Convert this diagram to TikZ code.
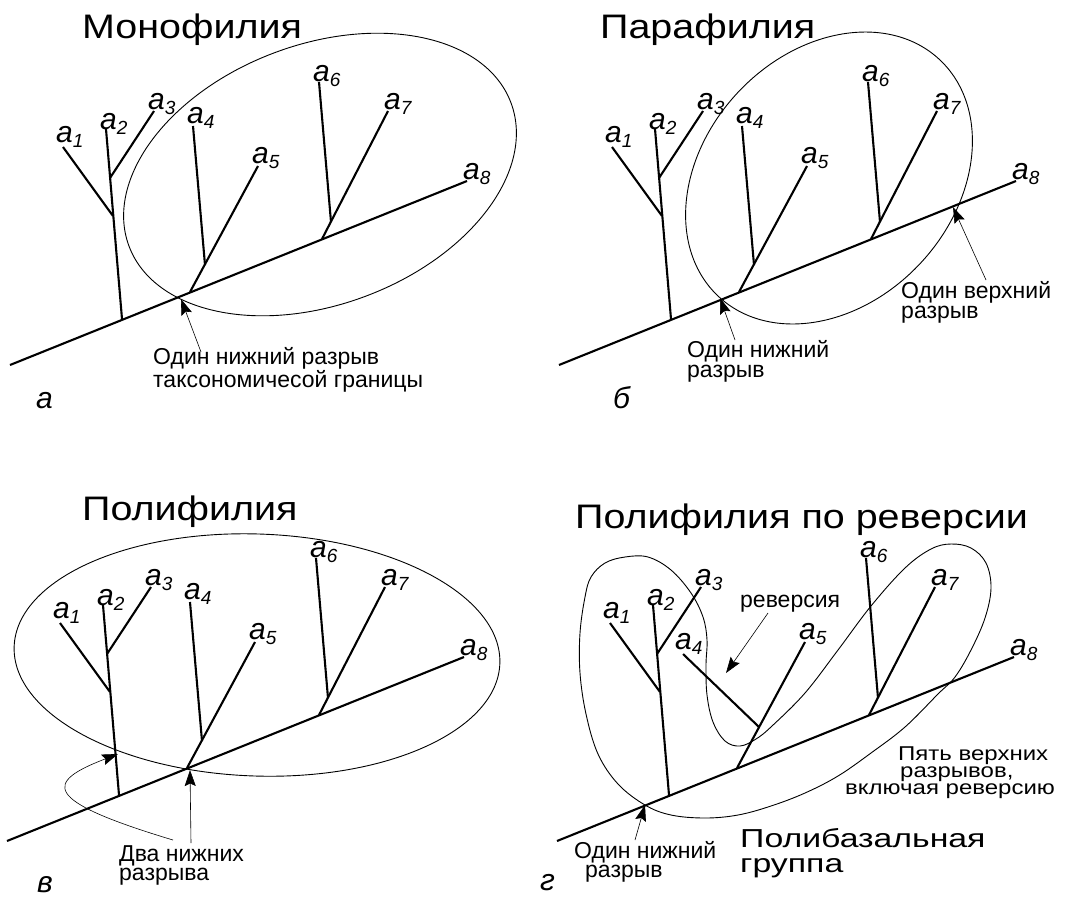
\documentclass[tikz,border=0pt]{standalone}
\usepackage{fontspec}
\setmainfont{Liberation Sans}
\newfontfamily\widefont{Liberation Sans}[FakeStretch=1.16]
\newfontfamily\smallwide{Liberation Sans}[FakeStretch=1.2]
\newfontfamily\widerfont{Liberation Sans}[FakeStretch=1.3]
\usetikzlibrary{arrows.meta,shapes.geometric}
\newcommand\albl[1]{a\raisebox{-5pt}{\fontsize{19}{19}\selectfont #1}}
\newcommand\phylotree[3]{%
\begin{scope}[shift={(#2,#3)}]
 \coordinate (#1m0) at (10,365);
 \coordinate (#1m1) at (467,181);
 \coordinate (#1t0) at (122,319);
 \coordinate (#1t1) at (106,129);
 \coordinate (#1j1) at (113,216);
 \coordinate (#1j3) at (110,178);
 \coordinate (#1e1) at (63,147);
 \coordinate (#1e3) at (154,111);
 \coordinate (#1b45) at (190,292);
 \coordinate (#1e5) at (258,166);
 \coordinate (#1b67) at (322,239);
 \coordinate (#1e7) at (388,111);
 \coordinate (#1j6) at (331,222);
 \coordinate (#1e6) at (319,82);
 \draw[branch] (#1m0) -- (#1m1);
 \draw[branch] (#1t0) -- (#1t1);
 \draw[branch] (#1j1) -- (#1e1);
 \draw[branch] (#1j3) -- (#1e3);
 \draw[branch] (#1b45) -- (#1e5);
 \draw[branch] (#1b67) -- (#1e7);
 \draw[branch] (#1j6) -- (#1e6);
 \node[lab] (#1l1) at (56,142) {\albl1};
 \node[lab] (#1l2) at (100,129) {\albl2};
 \node[lab] (#1l3) at (148,109) {\albl3};
 \node[lab] (#1l5) at (252,163) {\albl5};
 \node[lab] (#1l6) at (313,81) {\albl6};
 \node[lab] (#1l7) at (384,109) {\albl7};
 \node[lab] (#1l8) at (463,179) {\albl8};
\end{scope}}
\newcommand\uprighta[3]{%
\begin{scope}[shift={(#2,#3)}]
 \coordinate (#1j4) at (205,265);
 \coordinate (#1e4) at (193,126);
 \draw[branch] (#1j4) -- (#1e4);
 \node[lab] (#1l4) at (187,123) {\albl4};
\end{scope}}
\begin{document}
\begin{tikzpicture}[x=1pt,y=-1pt,
  branch/.style={line width=2.1pt},
  outline/.style={line width=0.9pt},
  pointer/.style={line width=0.6pt,-{Stealth[length=16pt,width=11pt,inset=2.5pt]}},
  lab/.style={anchor=base west,inner sep=0pt,font=\fontsize{30}{30}\selectfont\itshape},
  ttl/.style={anchor=base west,inner sep=0pt,font=\widefont\fontsize{34}{34}\selectfont},
  note/.style={anchor=base west,inner sep=0pt,align=left,font=\fontsize{23}{20}\selectfont},
  small/.style={anchor=base west,inner sep=0pt,font=\smallwide\fontsize{20}{17}\selectfont},
  big/.style={anchor=base west,inner sep=0pt,align=left,font=\widerfont\fontsize{26}{25}\selectfont},
  ]
\useasboundingbox (0,0) rectangle (1078,898);
% ---------- panel a ----------
\node[ttl] (ta) at (82,38) {Монофилия};
\phylotree{A}{0}{0}
\uprighta{A}{0}{0}
\node[draw,outline,ellipse,inner sep=0pt,minimum width=408pt,minimum height=260pt,rotate=20.6] (ovA) at (320,174.5) {};
\node[note] (na1) at (153,387) {Один нижний разрыв\\таксономичесой границы};
\coordinate (pa0) at (201,352);
\coordinate (pa1) at (181,299);
\draw[pointer] (pa0) -- (pa1);
\node[lab] (fa) at (36,408) {а};
% ---------- panel b ----------
\node[ttl] (tb) at (600,38) {Парафилия};
\phylotree{B}{549}{0}
\uprighta{B}{549}{0}
\node[draw,outline,ellipse,inner sep=0pt,minimum width=324pt,minimum height=250pt,rotate=47] (ovB) at (829,178) {};
\node[note] (nb1) at (901,318) {Один верхний\\разрыв};
\node[note] (nb3) at (687,377) {Один нижний\\разрыв};
\coordinate (pb0) at (735,340);
\coordinate (pb1) at (720,298);
\draw[pointer] (pb0) -- (pb1);
\coordinate (pb2) at (986,280);
\coordinate (pb3) at (953,207);
\draw[pointer] (pb2) -- (pb3);
\node[lab] (fb) at (613,408) {б};
% ---------- panel c ----------
\node[ttl] (tc) at (82,520) {Полифилия};
\phylotree{C}{-3}{476}
\uprighta{C}{-3}{476}
\node[draw,outline,ellipse,inner sep=0pt,minimum width=486pt,minimum height=242pt,rotate=-2] (ovC) at (257,655) {};
\node[note,font=\fontsize{23}{18.5}\selectfont] (nc1) at (119,880) {Два нижних\\разрыва};
\coordinate (pc0) at (191,843);
\coordinate (pc1) at (190,770);
\draw[pointer] (pc0) -- (pc1);
\coordinate (pc2) at (173,840);
\coordinate (pc3) at (118,754);
\draw[pointer] (pc2) .. controls (40,800) and (45,782) .. (pc3);
\node[lab] (fc) at (37,892) {в};
% ---------- panel d ----------
\node[ttl] (td) at (575,528) {Полифилия по реверсии};
\phylotree{D}{547}{476}
\begin{scope}[shift={(547,476)}]
 \coordinate (Dj4) at (212,251);
 \coordinate (De4) at (136,178);
 \draw[branch] (Dj4) -- (De4);
 \node[lab] (Dl4) at (128,173) {\albl4};
\end{scope}
\draw[outline] plot[smooth cycle,tension=0.6] coordinates {
 (585,597) (591,577) (605,563) (625,557) (648,557) (671,570) (691,593)
 (703,617) (707,640) (706,665) (707,695) (713,722) (725,741) (740,746)
 (756,739) (772,726) (805,693) (838,650) (871,606) (905,568) (931,549)
 (951,544) (971,548) (986,563) (991,588) (985,618) (971,650) (955,677)
 (938,694) (905,727) (871,753) (838,776) (805,793) (771,806) (738,815)
 (705,818) (671,815) (645,805) (618,784) (598,754) (586,714) (580,673)
 (580,633)};
\node[note] (nd1) at (740,607) {реверсия};
\coordinate (pd0) at (768,613);
\coordinate (pd1) at (726,673);
\draw[pointer] (pd0) -- (pd1);
\node[small] (nd2) at (898,760) {Пять верхних};
\node[small] (nd3) at (900,777) {разрывов,};
\node[small] (nd4) at (845,794) {включая реверсию};
\node[big] (nd5) at (740,872) {Полибазальная\\группа};
\node[note,font=\fontsize{23}{19}\selectfont] (nd7) at (574,877) {Один нижний\\\hspace*{11pt}разрыв};
\coordinate (pd2) at (635,840);
\coordinate (pd3) at (645,805);
\draw[pointer] (pd2) -- (pd3);
\node[lab] (fd) at (540,890) {г};
\end{tikzpicture}
\end{document}
